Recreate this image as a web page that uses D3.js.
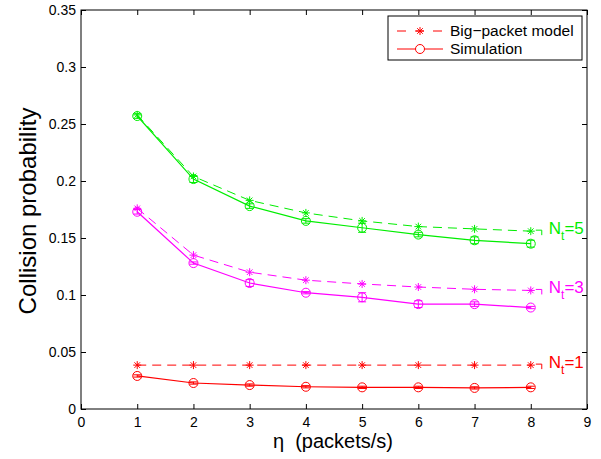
<!DOCTYPE html>
<html><head><meta charset="utf-8">
<script src="https://cdn.jsdelivr.net/npm/d3@7"></script>
<style>body{margin:0;background:#fff;} svg{display:block;font-family:"Liberation Sans",Arial,sans-serif;}</style>
</head><body>
<svg id="c" width="601" height="459"></svg>
<script>
const eta = [1,2,3,4,5,6,7,8];
const model1 = [0.0385,0.0385,0.0385,0.0385,0.0385,0.0385,0.0385,0.0385];
const sim1   = [0.029,0.0228,0.021,0.0195,0.019,0.019,0.0185,0.019];
const err1   = [0.001,0.001,0.001,0.001,0.001,0.001,0.001,0.001];
const model3 = [0.176,0.135,0.120,0.113,0.1097,0.107,0.105,0.104];
const sim3   = [0.173,0.128,0.1105,0.102,0.098,0.092,0.092,0.089];
const err3   = [0.002,0.001,0.003,0.001,0.004,0.003,0.002,0.001];
const model5 = [0.258,0.204,0.183,0.172,0.165,0.160,0.158,0.156];
const sim5   = [0.257,0.2017,0.178,0.165,0.159,0.153,0.148,0.145];
const err5   = [0.002,0.003,0.002,0.002,0.004,0.002,0.003,0.003];
const groupLabels = ["1","3","5"];
const xTicks = [0,1,2,3,4,5,6,7,8,9];
const yTicks = [0,0.05,0.1,0.15,0.2,0.25,0.3,0.35];
const legendLabels = ["Big\u2212packet model","Simulation"];

const svg = d3.select("#c");
const L=81,R=587,T=10,B=409;
const x = d3.scaleLinear().domain([0,9]).range([L,R]);
const y = d3.scaleLinear().domain([0,0.35]).range([B,T]);

svg.append("rect").attr("x",L).attr("y",T).attr("width",R-L).attr("height",B-T)
  .attr("fill","none").attr("stroke","#000").attr("stroke-width",1);

const fmtY = d => d===0?"0":String(+d.toFixed(2));
const ax = svg.append("g").attr("transform",`translate(0,${B})`)
  .call(d3.axisBottom(x).tickValues(xTicks).tickSize(-5).tickPadding(8).tickFormat(d=>d));
const ay = svg.append("g").attr("transform",`translate(${L},0)`)
  .call(d3.axisLeft(y).tickValues(yTicks).tickSize(-5).tickPadding(5).tickFormat(fmtY));
const axT = svg.append("g").attr("transform",`translate(0,${T})`)
  .call(d3.axisTop(x).tickValues(xTicks).tickSize(-5).tickFormat(""));
const ayR = svg.append("g").attr("transform",`translate(${R},0)`)
  .call(d3.axisRight(y).tickValues(yTicks).tickSize(-5).tickFormat(""));
[ax,ay,axT,ayR].forEach(g=>{g.select(".domain").remove();
  g.selectAll("text").attr("font-size",14).attr("fill","#000").attr("font-family","Liberation Sans, Arial, sans-serif");
  g.selectAll("line").attr("stroke","#000");});

svg.append("text").attr("x",333).attr("y",448).attr("text-anchor","middle")
  .attr("font-size",20).attr("xml:space","preserve").style("white-space","pre").text("\u03B7  (packets/s)");
svg.append("text").attr("transform","translate(36,211) rotate(-90)").attr("text-anchor","middle")
  .attr("font-size",24).text("Collision probability");

const groups = [
  {model:model1, sim:sim1, err:err1, color:"#ff0000", label:groupLabels[0]},
  {model:model3, sim:sim3, err:err3, color:"#ff00ff", label:groupLabels[1]},
  {model:model5, sim:sim5, err:err5, color:"#00ee00", label:groupLabels[2]},
];
const line = d3.line().x(d=>x(d[0])).y(d=>y(d[1]));

function star(g,cx,cy,color,s){
  const p = g.append("g").attr("stroke",color).attr("stroke-width",1).attr("fill","none");
  p.append("line").attr("x1",cx-s).attr("x2",cx+s).attr("y1",cy).attr("y2",cy);
  p.append("line").attr("x1",cx).attr("x2",cx).attr("y1",cy-s).attr("y2",cy+s);
  const k=s*0.7;
  p.append("line").attr("x1",cx-k).attr("x2",cx+k).attr("y1",cy-k).attr("y2",cy+k);
  p.append("line").attr("x1",cx-k).attr("x2",cx+k).attr("y1",cy+k).attr("y2",cy-k);
}

groups.forEach(gr=>{
  const g = svg.append("g");
  const md = eta.map((e,i)=>[e,gr.model[i]]);
  const sd = eta.map((e,i)=>[e,gr.sim[i]]);
  g.append("path").attr("d",line(md)).attr("fill","none").attr("stroke",gr.color)
    .attr("stroke-width",1).attr("stroke-dasharray","9,6");
  g.append("path").attr("d",line(sd)).attr("fill","none").attr("stroke",gr.color).attr("stroke-width",1.2);
  md.forEach(d=>star(g,x(d[0]),y(d[1]),gr.color,4));
  sd.forEach((d,i)=>{
    const cx=x(d[0]), lo=y(d[1]-gr.err[i]), hi=y(d[1]+gr.err[i]);
    g.append("line").attr("x1",cx).attr("x2",cx).attr("y1",lo).attr("y2",hi).attr("stroke",gr.color);
    g.append("line").attr("x1",cx-4).attr("x2",cx+4).attr("y1",lo).attr("y2",lo).attr("stroke",gr.color);
    g.append("line").attr("x1",cx-4).attr("x2",cx+4).attr("y1",hi).attr("y2",hi).attr("stroke",gr.color);
    g.append("circle").attr("cx",cx).attr("cy",y(d[1])).attr("r",4.5)
      .attr("fill","none").attr("stroke",gr.color).attr("stroke-width",1);
  });
  const lx = x(8), ly = y(gr.model[7]);
  g.append("path").attr("d",`M${lx+5},${ly-1}H${lx+11}V${ly+4}`).attr("fill","none").attr("stroke",gr.color);
  const t = g.append("text").attr("x",lx+18).attr("y",ly+3).attr("fill",gr.color).attr("font-size",17);
  t.append("tspan").text("N");
  t.append("tspan").attr("font-size",12).attr("dy",6).text("t");
  t.append("tspan").attr("dy",-6).text("="+gr.label);
});

const lg = svg.append("g");
lg.append("rect").attr("x",388).attr("y",16).attr("width",194).attr("height",44)
  .attr("fill","#fff").attr("stroke","#000").attr("stroke-width",1);
lg.append("line").attr("x1",397).attr("x2",443).attr("y1",31).attr("y2",31)
  .attr("stroke","#ff0000").attr("stroke-dasharray","9,9");
star(lg,420,31,"#ff0000",4);
lg.append("line").attr("x1",397).attr("x2",443).attr("y1",49).attr("y2",49).attr("stroke","#ff0000");
lg.append("circle").attr("cx",420).attr("cy",49).attr("r",4.5).attr("fill","#fff").attr("stroke","#ff0000");
lg.append("text").attr("x",450).attr("y",36).attr("font-size",15.5).text(legendLabels[0]);
lg.append("text").attr("x",450).attr("y",54).attr("font-size",15.5).text(legendLabels[1]);
</script>
</body></html>
